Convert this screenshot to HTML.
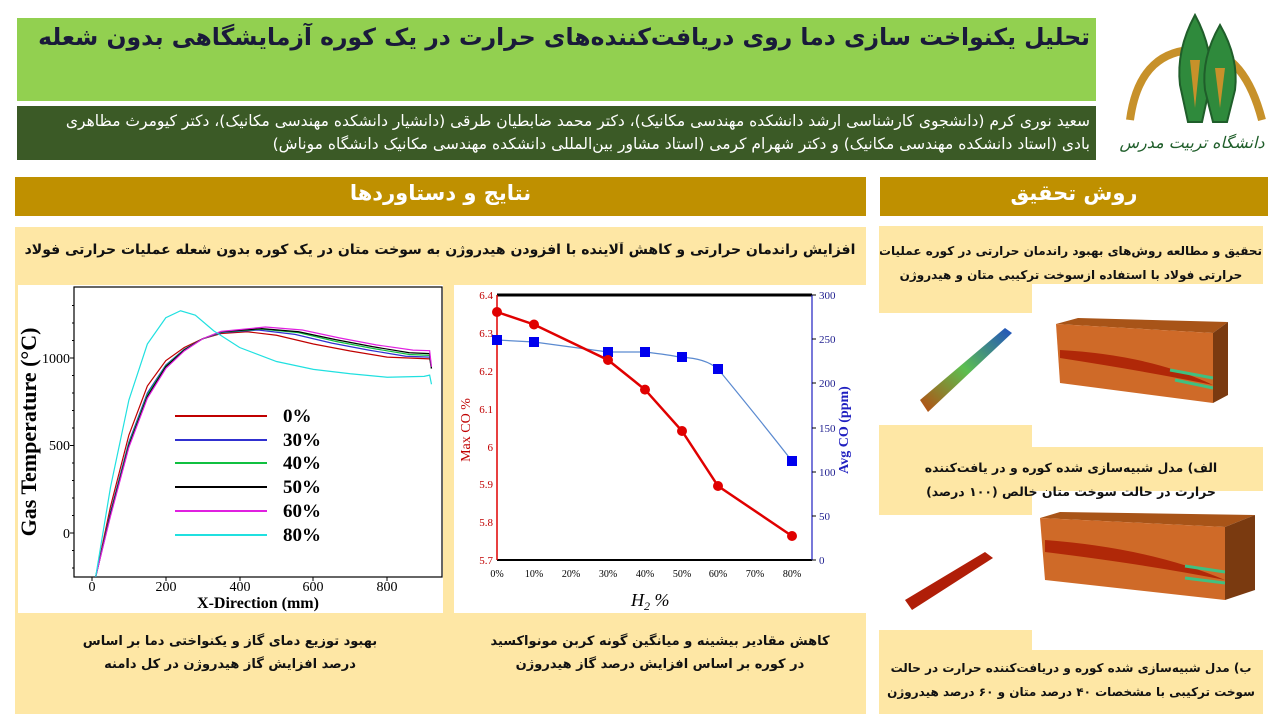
<!DOCTYPE html>
<html><head><meta charset="utf-8">
<style>
*{margin:0;padding:0;box-sizing:border-box}
body{width:1280px;height:720px;background:#fff;position:relative;overflow:hidden;font-family:"DejaVu Sans","Liberation Sans",sans-serif}
.a{position:absolute}
.fa{direction:rtl;font-family:"DejaVu Sans","Liberation Sans",sans-serif;font-weight:bold;white-space:nowrap;overflow:hidden}
</style></head><body>
<div class="a" style="left:17px;top:18px;width:1079px;height:83px;background:#92d050"></div>
<div class="a fa" style="left:22px;top:23px;width:1068px;text-align:right;font-size:23.5px;color:#1a1a3a">تحلیل یکنواخت سازی دما روی دریافت‌کننده‌های حرارت در یک کوره آزمایشگاهی بدون شعله</div>
<div class="a" style="left:17px;top:106px;width:1079px;height:54px;background:#3b5a26"></div>
<div class="a fa" style="left:22px;top:110px;width:1068px;text-align:right;font-size:15.5px;line-height:23px;color:#fff;font-weight:normal">سعید نوری کرم (دانشجوی کارشناسی ارشد دانشکده مهندسی مکانیک)، دکتر محمد ضابطیان طرقی (دانشیار دانشکده مهندسی مکانیک)، دکتر کیومرث مظاهری<br>بادی (استاد دانشکده مهندسی مکانیک) و دکتر شهرام کرمی (استاد مشاور بین‌المللی دانشکده مهندسی مکانیک دانشگاه موناش)</div>
<svg class="a" style="left:1110px;top:10px" width="160" height="150" viewBox="1110 10 160 150">
<path d="M1130 120 Q1140 45 1205 50 Q1245 55 1262 120" fill="none" stroke="#c7912a" stroke-width="8"/>
<path d="M1195 15 Q1176 50 1180 85 L1188 122 L1202 122 L1210 85 Q1214 50 1195 15Z" fill="#2f8a3c" stroke="#1f5e2a" stroke-width="2"/>
<path d="M1220 25 Q1201 58 1205 90 L1213 122 L1227 122 L1235 90 Q1239 58 1220 25Z" fill="#2f8a3c" stroke="#1f5e2a" stroke-width="2"/>
<path d="M1190 60 L1195 108 L1200 60Z M1215 68 L1220 108 L1225 68Z" fill="#c7912a"/>
<text x="1192" y="148" text-anchor="middle" font-size="16" fill="#1f5e2a" font-family="DejaVu Sans" font-style="italic">دانشگاه تربیت مدرس</text>
</svg>
<div class="a" style="left:15px;top:177px;width:851px;height:39px;background:#bf9000"></div>
<div class="a fa" style="left:15px;top:181px;width:851px;text-align:center;font-size:21px;color:#fff;direction:rtl">نتایج و دستاوردها</div>
<div class="a" style="left:880px;top:177px;width:388px;height:39px;background:#bf9000"></div>
<div class="a fa" style="left:880px;top:181px;width:388px;text-align:center;font-size:21px;color:#fff">روش تحقیق</div>
<div class="a" style="left:15px;top:227px;width:851px;height:487px;background:#fee7a5"></div>
<div class="a fa" style="left:20px;top:242px;width:840px;text-align:center;font-size:14px;color:#111">افزایش راندمان حرارتی و کاهش آلاینده با افزودن هیدروژن به سوخت متان در یک کوره بدون شعله عملیات حرارتی فولاد</div>
<div class="a" style="left:18px;top:285px;width:425px;height:328px;background:#fff"></div>
<div class="a" style="left:454px;top:285px;width:412px;height:328px;background:#fff"></div>
<div class="a fa" style="left:25px;top:630px;width:410px;text-align:center;font-size:13px;line-height:23px;color:#111">بهبود توزیع دمای گاز و یکنواختی دما بر اساس<br>درصد افزایش گاز هیدروژن در کل دامنه</div>
<div class="a fa" style="left:455px;top:630px;width:410px;text-align:center;font-size:13px;line-height:23px;color:#111">کاهش مقادیر بیشینه و میانگین گونه کربن مونواکسید<br>در کوره بر اساس افزایش درصد گاز هیدروژن</div>

<svg class="a" style="left:0;top:0" width="870" height="720" font-family="Liberation Serif, serif">
<rect x="74" y="287" width="368" height="290" fill="none" stroke="#000" stroke-width="1.2"/>
<g stroke="#000" stroke-width="1">
<line x1="74" y1="533" x2="70" y2="533"/><line x1="74" y1="445.5" x2="70" y2="445.5"/><line x1="74" y1="358" x2="70" y2="358"/>
<line x1="74" y1="568" x2="72" y2="568"/><line x1="74" y1="550.5" x2="72" y2="550.5"/><line x1="74" y1="515.5" x2="72" y2="515.5"/><line x1="74" y1="498" x2="72" y2="498"/><line x1="74" y1="480.5" x2="72" y2="480.5"/><line x1="74" y1="463" x2="72" y2="463"/><line x1="74" y1="428" x2="72" y2="428"/><line x1="74" y1="410.5" x2="72" y2="410.5"/><line x1="74" y1="393" x2="72" y2="393"/><line x1="74" y1="375.5" x2="72" y2="375.5"/><line x1="74" y1="340.5" x2="72" y2="340.5"/><line x1="74" y1="323" x2="72" y2="323"/><line x1="74" y1="305.5" x2="72" y2="305.5"/>
<line x1="92" y1="577" x2="92" y2="581"/><line x1="166" y1="577" x2="166" y2="581"/><line x1="240" y1="577" x2="240" y2="581"/><line x1="313" y1="577" x2="313" y2="581"/><line x1="387" y1="577" x2="387" y2="581"/>
</g>
<g font-size="14" text-anchor="end" fill="#000"><text x="70" y="538">0</text><text x="70" y="450">500</text><text x="70" y="363">1000</text></g>
<g font-size="14" text-anchor="middle" fill="#000"><text x="92" y="591">0</text><text x="166" y="591">200</text><text x="240" y="591">400</text><text x="313" y="591">600</text><text x="387" y="591">800</text></g>
<text x="258" y="608" font-size="16" font-weight="bold" text-anchor="middle">X-Direction (mm)</text>
<text transform="translate(36,432) rotate(-90)" font-size="22" font-weight="bold" text-anchor="middle">Gas Temperature (°C)</text>
<g transform="translate(92,533) scale(0.369,-0.175)" fill="none" stroke-width="1.2">
<polyline vector-effect="non-scaling-stroke" stroke="#c00000" points="10,-250 50,150 100,560 150,840 200,985 250,1060 300,1110 350,1140 420,1150 500,1130 600,1080 700,1040 800,1005 915,995 920,940"/>
<polyline vector-effect="non-scaling-stroke" stroke="#3030d0" points="10,-250 50,120 100,520 150,800 200,960 250,1050 300,1110 350,1145 450,1160 550,1135 650,1085 750,1045 850,1010 915,1005 920,940"/>
<polyline vector-effect="non-scaling-stroke" stroke="#10c040" points="10,-250 50,110 100,510 150,790 200,955 250,1048 300,1110 350,1148 460,1165 560,1145 660,1095 760,1055 860,1020 915,1015 920,940"/>
<polyline vector-effect="non-scaling-stroke" stroke="#000" points="10,-250 50,105 100,500 150,780 200,950 250,1045 300,1110 350,1150 460,1168 560,1150 660,1105 760,1065 860,1030 915,1025 920,940"/>
<polyline vector-effect="non-scaling-stroke" stroke="#e020e0" points="10,-250 50,95 100,490 150,770 200,940 250,1040 300,1110 350,1152 470,1177 570,1160 670,1115 770,1075 870,1045 915,1042 920,950"/>
<polyline vector-effect="non-scaling-stroke" stroke="#20e0e0" points="10,-250 50,260 100,760 150,1080 200,1230 240,1270 280,1245 330,1155 400,1060 500,980 600,935 700,910 800,890 900,895 915,902 920,850"/>
</g>
<g stroke-width="2">
<line x1="175" y1="416" x2="267" y2="416" stroke="#c00000"/><line x1="175" y1="440" x2="267" y2="440" stroke="#3030d0"/><line x1="175" y1="463" x2="267" y2="463" stroke="#10c040"/><line x1="175" y1="487" x2="267" y2="487" stroke="#000"/><line x1="175" y1="511" x2="267" y2="511" stroke="#e020e0"/><line x1="175" y1="535" x2="267" y2="535" stroke="#20e0e0"/>
</g>
<g font-size="19" font-weight="bold"><text x="283" y="422">0%</text><text x="283" y="446">30%</text><text x="283" y="469">40%</text><text x="283" y="493">50%</text><text x="283" y="517">60%</text><text x="283" y="541">80%</text></g>

<line x1="497" y1="295" x2="812" y2="295" stroke="#000" stroke-width="3"/>
<line x1="497" y1="560" x2="812" y2="560" stroke="#000" stroke-width="2"/>
<line x1="497" y1="295" x2="497" y2="560" stroke="#e00000" stroke-width="1.5"/>
<line x1="812" y1="295" x2="812" y2="560" stroke="#2020c0" stroke-width="1.2"/>
<g stroke="#000"><line x1="812" y1="295" x2="816" y2="295"/><line x1="812" y1="339" x2="816" y2="339"/><line x1="812" y1="383" x2="816" y2="383"/><line x1="812" y1="428" x2="816" y2="428"/><line x1="812" y1="472" x2="816" y2="472"/><line x1="812" y1="516" x2="816" y2="516"/><line x1="812" y1="560" x2="816" y2="560"/></g>
<g font-size="11" fill="#c00000" text-anchor="end"><text x="493" y="299">6.4</text><text x="493" y="337">6.3</text><text x="493" y="375">6.2</text><text x="493" y="413">6.1</text><text x="493" y="451">6</text><text x="493" y="488">5.9</text><text x="493" y="526">5.8</text><text x="493" y="564">5.7</text></g>
<g font-size="11" fill="#202090"><text x="819" y="299">300</text><text x="819" y="343">250</text><text x="819" y="387">200</text><text x="819" y="432">150</text><text x="819" y="476">100</text><text x="819" y="520">50</text><text x="819" y="564">0</text></g>
<g font-size="10" fill="#000" text-anchor="middle"><text x="497" y="577">0%</text><text x="534" y="577">10%</text><text x="571" y="577">20%</text><text x="608" y="577">30%</text><text x="645" y="577">40%</text><text x="682" y="577">50%</text><text x="718" y="577">60%</text><text x="755" y="577">70%</text><text x="792" y="577">80%</text></g>
<text transform="translate(470,430) rotate(-90)" font-size="14" fill="#c00000" text-anchor="middle">Max CO %</text>
<text transform="translate(848,430) rotate(-90)" font-size="14" fill="#2020c0" text-anchor="middle" font-weight="bold">Avg CO (ppm)</text>
<text x="631" y="606" font-size="18" font-style="italic">H<tspan font-size="12" dy="4">2</tspan><tspan dy="-4"> %</tspan></text>
<path d="M497 340 L534 342 L608 352 L645 352 Q670 355 682 357.5 Q705 358 718 369 Q760 420 792 461" fill="none" stroke="#5b8ad0" stroke-width="1.2"/>
<g fill="#0000ee"><rect x="492" y="335" width="10" height="10"/><rect x="529" y="337" width="10" height="10"/><rect x="603" y="347" width="10" height="10"/><rect x="640" y="347" width="10" height="10"/><rect x="677" y="352" width="10" height="10"/><rect x="713" y="364" width="10" height="10"/><rect x="787" y="456" width="10" height="10"/></g>
<polyline points="497,312 534,324.5 608,360 645,389.6 682,431 718,486 792,536" fill="none" stroke="#e00000" stroke-width="2.5"/>
<g fill="#e00000"><circle cx="497" cy="312" r="5"/><circle cx="534" cy="324.5" r="5"/><circle cx="608" cy="360" r="5"/><circle cx="645" cy="389.6" r="5"/><circle cx="682" cy="431" r="5"/><circle cx="718" cy="486" r="5"/><circle cx="792" cy="536" r="5"/></g>
</svg>

<div class="a" style="left:879px;top:226px;width:384px;height:58px;background:#fee7a5"></div>
<div class="a" style="left:879px;top:284px;width:153px;height:29px;background:#fee7a5"></div>
<div class="a fa" style="left:880px;top:239px;width:382px;text-align:center;font-size:12px;line-height:24px;color:#111">تحقیق و مطالعه روش‌های بهبود راندمان حرارتی در کوره عملیات<br>حرارتی فولاد با استفاده ازسوخت ترکیبی متان و هیدروژن</div>
<div class="a" style="left:879px;top:425px;width:153px;height:23px;background:#fee7a5"></div>
<div class="a" style="left:879px;top:447px;width:384px;height:44px;background:#fee7a5"></div>
<div class="a" style="left:879px;top:490px;width:153px;height:25px;background:#fee7a5"></div>
<div class="a fa" style="left:882px;top:456px;width:378px;text-align:center;font-size:12.5px;line-height:24px;color:#111">الف) مدل شبیه‌سازی شده کوره و در یافت‌کننده<br>حرارت در حالت سوخت متان خالص (۱۰۰ درصد)</div>
<div class="a" style="left:879px;top:630px;width:153px;height:22px;background:#fee7a5"></div>
<div class="a" style="left:879px;top:650px;width:384px;height:64px;background:#fee7a5"></div>
<div class="a fa" style="left:880px;top:656px;width:382px;text-align:center;font-size:12px;line-height:24px;color:#111">ب) مدل شبیه‌سازی شده کوره و دریافت‌کننده حرارت در حالت<br>سوخت ترکیبی با مشخصات ۴۰ درصد متان و ۶۰ درصد هیدروژن</div>
<svg class="a" style="left:870px;top:310px" width="410" height="330" viewBox="870 310 410 330">
<defs>
<linearGradient id="g1" x1="0" y1="1" x2="1" y2="0"><stop offset="0" stop-color="#b84a10"/><stop offset="0.5" stop-color="#5cbf50"/><stop offset="1" stop-color="#2050c0"/></linearGradient>
</defs>
<polygon points="920,400 1005,328 1012,333 928,412" fill="url(#g1)"/>
<polygon points="1056,324 1078,318 1228,322 1213,333" fill="#a85418"/>
<polygon points="1056,324 1213,333 1213,403 1060,383" fill="#cf6a28"/>
<path d="M1060 350 Q1150 355 1213 385 Q1150 372 1060 358Z" fill="#b02808"/>
<path d="M1170 370 L1213 378 M1175 380 L1213 388" stroke="#40c080" stroke-width="3"/>
<polygon points="1213,333 1228,322 1228,395 1213,403" fill="#7a3a10"/>
<polygon points="905,600 985,552 993,558 912,610" fill="#b01e08"/>
<polygon points="1040,518 1060,512 1255,515 1225,527" fill="#a85418"/>
<polygon points="1040,518 1225,527 1225,600 1045,580" fill="#cf6a28"/>
<path d="M1045 540 Q1150 548 1225 580 Q1150 565 1045 552Z" fill="#b02808"/>
<path d="M1185 566 L1225 572 M1185 578 L1225 583" stroke="#40c080" stroke-width="3"/>
<polygon points="1225,527 1255,515 1255,590 1225,600" fill="#7a3a10"/>
</svg>
</body></html>
